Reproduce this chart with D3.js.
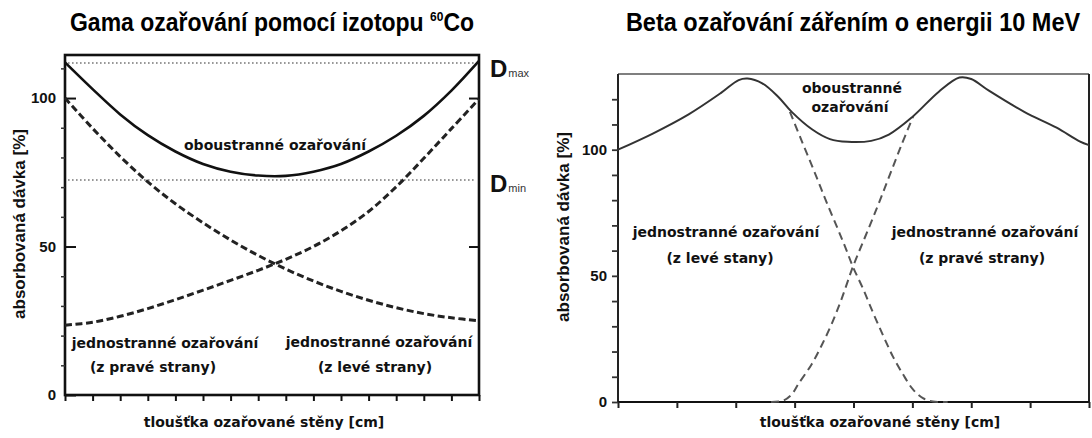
<!DOCTYPE html>
<html><head><meta charset="utf-8">
<script src="https://cdn.jsdelivr.net/npm/d3@7"></script>
<style>
body{margin:0;background:#fff;}
svg{display:block;}
</style></head><body>
<svg id="c" width="1092" height="438"></svg>
<script>
// ---------- data : gamma (60Co) ----------
const gammaX      = [0,1,2,3,4,5,6,7,8,9,10,11,12,13,14,15];
const gammaBoth   = [112,103,94.5,87.5,82,77.8,75.2,73.9,73.8,75.2,77.8,82,87.3,94,102.5,112.5];
const gammaFromLeft  = [100,89.8,80.3,71.8,64.4,58,52.2,47,42.4,38.4,34.9,31.9,29.4,27.4,26,25];
const gammaFromRight = [23.5,24.5,26.5,29.1,32.1,35.3,38.6,42,45.7,50,55.3,61.8,70.1,79.7,89.7,99.7];
const gammaDmax = 111.8, gammaDmin = 72.4;
const gammaYLabels = [0,50,100];
const gammaYMinor  = [10,20,30,40,60,70,80,90,110];
const gammaXTicks  = [0,1,2,3,4,5,6,7,8,9,10,11,12,13,14,15];

// ---------- data : beta 10 MeV ----------
const betaBothX = [0,0.6,1.2,1.75,2.05,2.2,2.45,2.72,2.95,3.3,3.6,3.9,4.3,4.6,5.0,5.45,5.8,6.0,6.3,6.9,7.45,7.84,8];
const betaBoth  = [100,106.5,114,122.5,127.6,128.2,126.3,121,115,108,104.2,103.1,103.5,106,113,123,128.6,128,123.4,115,108.7,103.3,101.8];
const betaLeftX = [2.92,3.12,3.33,3.53,3.74,3.87,3.99,4.16,4.33,4.5,4.67,4.84,5.01,5.18,5.35,5.6];
const betaLeft  = [115,103.5,91.6,79.9,68.2,60.8,53.6,45,35.5,26.5,18,11,5,1.5,0.2,0];
const betaRightX = [2.6,2.8,2.95,3.06,3.29,3.46,3.63,3.8,3.99,4.19,4.4,4.6,4.8,5.01];
const betaRight  = [0,0.5,3,7,15,22.5,31,41,53.6,65,77,89,101,113];
const betaYTicks = [0,10,20,30,40,50,60,70,80,90,100,110,120];
const betaYLabels = [0,50,100];
const betaXTicks = [0,1,2,3,4,5,6,7,8];

const svg = d3.select('#c');
const LAB = "'DejaVu Sans', sans-serif";
const ARI = "'Liberation Sans', Arial, sans-serif";

function pts(xs, ys){ return xs.map((x,i)=>[x, ys[i]]); }

// ================= LEFT CHART =================
const xL = d3.scaleLinear().domain([0,15]).range([65,479]);
const yL = d3.scaleLinear().domain([0,114.5]).range([395,55]);
const gL = svg.append('g');

gL.append('rect').attr('x',xL(0)).attr('y',yL(114.5)).attr('width',xL(15)-xL(0)).attr('height',yL(0)-yL(114.5))
  .attr('fill','none').attr('stroke','#111').attr('stroke-width',2.6);

const axLB = gL.append('g').attr('transform',`translate(0,${yL(0)})`)
  .call(d3.axisBottom(xL).tickValues(gammaXTicks).tickSize(6).tickFormat(''));
axLB.select('.domain').remove();
axLB.selectAll('line').attr('stroke','#111').attr('stroke-width',2);

const axLm = gL.append('g').attr('transform',`translate(${xL(0)},0)`)
  .call(d3.axisLeft(yL).tickValues(gammaYMinor).tickSize(4).tickFormat(''));
axLm.select('.domain').remove();
axLm.selectAll('line').attr('stroke','#333').attr('stroke-width',1.5);

const axL = gL.append('g').attr('transform',`translate(${xL(0)},0)`)
  .call(d3.axisLeft(yL).tickValues(gammaYLabels).tickSizeInner(-11).tickSizeOuter(0).tickPadding(9));
axL.select('.domain').remove();
axL.selectAll('line').attr('stroke','#111').attr('stroke-width',2);
axL.selectAll('text').attr('font-family',ARI).attr('font-weight','bold').attr('font-size',15).attr('fill','#111');

const axLR = gL.append('g').attr('transform',`translate(${xL(15)},0)`)
  .call(d3.axisRight(yL).tickValues([50,100]).tickSizeInner(-10).tickSizeOuter(0).tickFormat(''));
axLR.select('.domain').remove();
axLR.selectAll('line').attr('stroke','#111').attr('stroke-width',2);

[gammaDmax, gammaDmin].forEach(v=>{
  gL.append('line').attr('x1',xL(0)+3).attr('x2',xL(15)-3).attr('y1',yL(v)).attr('y2',yL(v))
    .attr('stroke','#777').attr('stroke-width',1.6).attr('stroke-dasharray','1.6,2.4');
});

const lineL = d3.line().x(d=>xL(d[0])).y(d=>yL(d[1])).curve(d3.curveCatmullRom.alpha(0.5));
gL.append('path').attr('d',lineL(pts(gammaX,gammaBoth))).attr('fill','none').attr('stroke','#111').attr('stroke-width',2.6);
gL.append('path').attr('d',lineL(pts(gammaX,gammaFromLeft))).attr('fill','none').attr('stroke','#222').attr('stroke-width',3).attr('stroke-dasharray','7,3.5');
gL.append('path').attr('d',lineL(pts(gammaX,gammaFromRight))).attr('fill','none').attr('stroke','#222').attr('stroke-width',3).attr('stroke-dasharray','7,3.5');

function dLabel(y, sub){
  const t = svg.append('text').attr('x',490).attr('y',y).attr('font-family',ARI).attr('font-weight','bold').attr('font-size',24).attr('fill','#111');
  t.append('tspan').text('D');
  t.append('tspan').attr('font-size',11).attr('font-weight','normal').attr('fill','#333').attr('dx',1).text(sub);
}
dLabel(yL(gammaDmax)+14, 'max');
dLabel(yL(gammaDmin)+12, 'min');

// ================= RIGHT CHART =================
const xR = d3.scaleLinear().domain([0,8]).range([618,1089]);
const yR = d3.scaleLinear().domain([0,130]).range([402,74]);
const gR = svg.append('g');

gR.append('line').attr('x1',xR(0)).attr('x2',xR(8)).attr('y1',yR(130)).attr('y2',yR(130)).attr('stroke','#555').attr('stroke-width',1.6);
gR.append('line').attr('x1',xR(0)).attr('x2',xR(0)).attr('y1',yR(130)).attr('y2',yR(0)).attr('stroke','#222').attr('stroke-width',2);
gR.append('line').attr('x1',xR(8)).attr('x2',xR(8)).attr('y1',yR(130)).attr('y2',yR(0)).attr('stroke','#222').attr('stroke-width',2);
gR.append('line').attr('x1',xR(0)).attr('x2',xR(8)).attr('y1',yR(0)).attr('y2',yR(0)).attr('stroke','#111').attr('stroke-width',2.2);

const axRB = gR.append('g').attr('transform',`translate(0,${yR(0)})`)
  .call(d3.axisBottom(xR).tickValues(betaXTicks).tickSize(6).tickFormat(''));
axRB.select('.domain').remove();
axRB.selectAll('line').attr('stroke','#222').attr('stroke-width',2);

const axRL = gR.append('g').attr('transform',`translate(${xR(0)},0)`)
  .call(d3.axisLeft(yR).tickValues(betaYTicks).tickSizeInner(6).tickSizeOuter(0).tickPadding(5)
    .tickFormat(d=> betaYLabels.includes(d) ? d : ''));
axRL.select('.domain').remove();
axRL.selectAll('line').attr('stroke','#333').attr('stroke-width',1.8);
axRL.selectAll('text').attr('font-family',ARI).attr('font-weight','bold').attr('font-size',15).attr('fill','#111');

const lineR = d3.line().x(d=>xR(d[0])).y(d=>yR(d[1])).curve(d3.curveCatmullRom.alpha(0.5));
gR.append('path').attr('d',lineR(pts(betaLeftX,betaLeft))).attr('fill','none').attr('stroke','#555').attr('stroke-width',2).attr('stroke-dasharray','8,5');
gR.append('path').attr('d',lineR(pts(betaRightX,betaRight))).attr('fill','none').attr('stroke','#555').attr('stroke-width',2).attr('stroke-dasharray','8,5');
gR.append('path').attr('d',lineR(pts(betaBothX,betaBoth))).attr('fill','none').attr('stroke','#333').attr('stroke-width',2);

// ================= TEXT =================
function txt(x,y,s,opt={}){
  return svg.append('text').attr('x',x).attr('y',y).attr('text-anchor',opt.anchor||'middle')
    .attr('font-family',opt.font||LAB).attr('font-weight','bold').attr('font-size',opt.size||14)
    .attr('fill',opt.fill||'#111').text(s);
}
const t1 = svg.append('text').attr('transform','translate(272,31) scale(1,1.1)').attr('text-anchor','middle')
  .attr('font-family',ARI).attr('font-weight','bold').attr('font-size',23).attr('fill','#000');
t1.append('tspan').text('Gama ozařování pomocí izotopu ');
t1.append('tspan').attr('font-size',12).attr('dy',-9).text('60');
t1.append('tspan').attr('dy',9).text('Co');
svg.append('text').attr('transform','translate(853,31) scale(1,1.1)').attr('text-anchor','middle')
  .attr('font-family',ARI).attr('font-weight','bold').attr('font-size',23.5).attr('fill','#000')
  .text('Beta ozařování zářením o energii 10 MeV');

[[25,224],[569,227]].forEach(([x,y])=>{
  svg.append('text').attr('transform',`translate(${x},${y}) rotate(-90)`).attr('text-anchor','middle')
    .attr('font-family',ARI).attr('font-weight','bold').attr('font-size',17).attr('fill','#111')
    .text('absorbovaná dávka [%]');
});
txt(264,427,'tloušťka ozařované stěny [cm]');
txt(880,427,'tloušťka ozařované stěny [cm]');

txt(275,150,'oboustranné ozařování');
txt(165,348,'jednostranné ozařování');
txt(153,372,'(z pravé strany)');
txt(379,347,'jednostranné ozařování');
txt(375,372,'(z levé strany)');
txt(852,93,'oboustranné');
txt(850,112,'ozařování');
txt(726,237,'jednostranné ozařování');
txt(720,263,'(z levé stany)');
txt(985,237,'jednostranné ozařování');
txt(982,263,'(z pravé strany)');
</script>
</body></html>
